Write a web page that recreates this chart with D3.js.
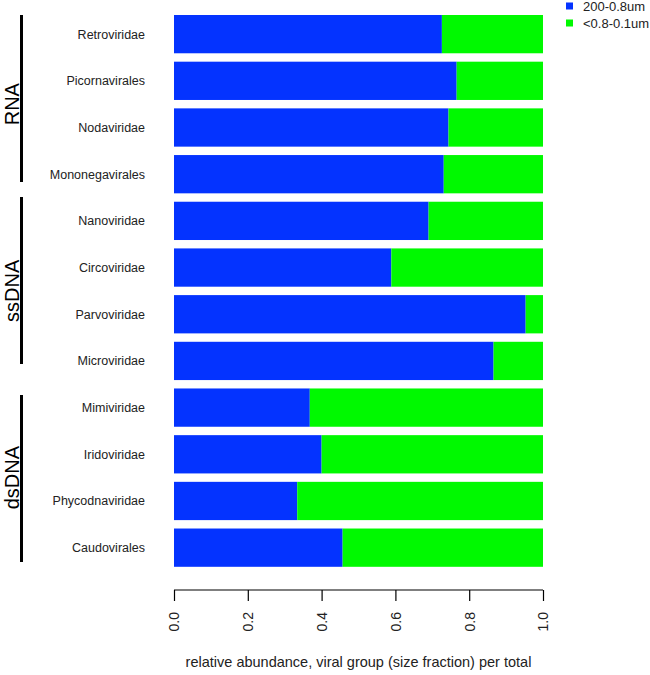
<!DOCTYPE html>
<html><head><meta charset="utf-8">
<script src="https://cdn.jsdelivr.net/npm/d3@7"></script>
<style>body{margin:0;background:#fff;} svg{display:block;font-family:"Liberation Sans",Arial,sans-serif;}</style>
</head><body>
<svg id="c" width="650" height="675"></svg>
<script>
const categories = ["Retroviridae","Picornavirales","Nodaviridae","Mononegavirales","Nanoviridae","Circoviridae","Parvoviridae","Microviridae","Mimiviridae","Iridoviridae","Phycodnaviridae","Caudovirales"];
const large = [0.726,0.766,0.744,0.731,0.690,0.589,0.953,0.866,0.368,0.400,0.334,0.457];
const small = large.map(v => 1 - v); // remainder of total
const seriesNames = ["200-0.8um","<0.8-0.1um"];
const seriesColors = ["#0433FF","#00F900"];
const groups = [{name:"RNA",from:0,to:3},{name:"ssDNA",from:4,to:7},{name:"dsDNA",from:8,to:11}];
const ticks = [0,0.2,0.4,0.6,0.8,1.0];

const svg = d3.select("#c");
const x = d3.scaleLinear().domain([0,1]).range([174,543]);
const y = d3.scaleBand().domain(categories).range([10.8,571]).paddingInner(0.18).paddingOuter(0.09);

const rows = categories.map((c,i)=>({c, a:large[i], b:small[i]}));
const g = svg.append("g");
g.selectAll("rect.a").data(rows).join("rect").attr("class","a")
  .attr("x",x(0)).attr("y",d=>y(d.c)).attr("width",d=>x(d.a)-x(0)).attr("height",y.bandwidth())
  .attr("fill",seriesColors[0]);
g.selectAll("rect.b").data(rows).join("rect").attr("class","b")
  .attr("x",d=>x(d.a)).attr("y",d=>y(d.c)).attr("width",d=>x(d.a+d.b)-x(d.a)).attr("height",y.bandwidth())
  .attr("fill",seriesColors[1]);

// category labels
g.selectAll("text.cat").data(categories).join("text").attr("class","cat")
  .attr("x",145).attr("y",d=>y(d)+y.bandwidth()/2).attr("dy","0.35em")
  .attr("text-anchor","end").attr("font-size",12.5).attr("fill","#222").text(d=>d);

// group brackets (spaced evenly down the left margin)
const gspan = 167, gstep = 190;
groups.forEach((gr,i)=>{
  const y0 = y(categories[0]) + i*gstep - (i===1?8:0), y1 = y0 + gspan;
  svg.append("line").attr("x1",21.5).attr("x2",21.5).attr("y1",y0).attr("y2",y1)
    .attr("stroke","#000").attr("stroke-width",3);
  const cy=(y(categories[gr.from])+y(categories[gr.to])+y.bandwidth())/2;
  svg.append("text").attr("transform",`translate(19,${cy}) rotate(-90)`)
    .attr("text-anchor","middle").attr("font-size",20).attr("fill","#000").text(gr.name);
});

// x axis
const ax = svg.append("g").attr("transform","translate(0,590)")
  .call(d3.axisBottom(x).tickValues(ticks).tickFormat(d3.format(".1f")).tickSize(11).tickSizeOuter(0));
ax.select(".domain").attr("stroke","#000").attr("stroke-width",1.2).attr("d",`M${x(0)},0H${x(1)}`);
ax.selectAll(".tick line").attr("stroke","#000").attr("stroke-width",1.2);
ax.selectAll(".tick text").attr("font-size",14).attr("fill","#222")
  .attr("transform","rotate(-90)").attr("text-anchor","end").attr("x",-22).attr("y",0).attr("dy","0.35em");
ax.attr("font-family",null);

svg.append("text").attr("x",(x(0)+x(1))/2).attr("y",667).attr("text-anchor","middle")
  .attr("font-size",14.5).attr("fill","#222").text("relative abundance, viral group (size fraction) per total");

// legend
const lg = svg.append("g");
seriesNames.forEach((n,i)=>{
  lg.append("rect").attr("x",566).attr("y",2.5+i*17).attr("width",7).attr("height",7).attr("fill",seriesColors[i]);
  lg.append("text").attr("x",583).attr("y",6+i*17).attr("dy","0.35em").attr("font-size",13).attr("fill","#222").text(n);
});
</script>
</body></html>
